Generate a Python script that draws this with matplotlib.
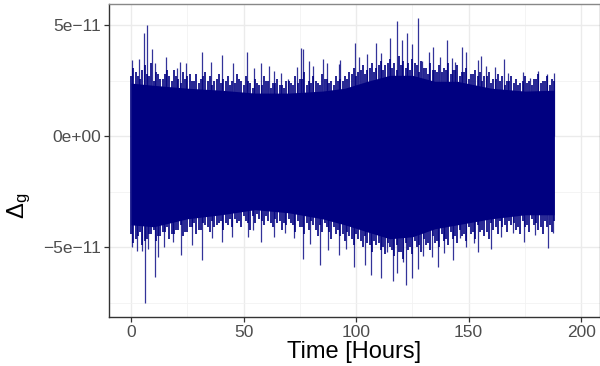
import numpy as np
import matplotlib
matplotlib.use("Agg")
import matplotlib.pyplot as plt
from matplotlib.ticker import FixedLocator

plt.rcParams['font.family'] = ['Liberation Sans', 'DejaVu Sans']
plt.rcParams['mathtext.fontset'] = 'custom'
plt.rcParams['mathtext.rm'] = 'Liberation Sans'
plt.rcParams['mathtext.it'] = 'Liberation Sans'

# ---- data (values in units of 1e-11) ----
# solid core of the trace
core_hours = [0, 10, 25, 40, 55, 70, 85, 95, 105, 115, 125, 135, 145, 160, 175, 188]
core_top = [2.40, 2.30, 2.17, 2.08, 1.95, 1.95, 2.04, 2.17, 2.48, 2.75, 2.75, 2.48, 2.48, 2.17, 2.04, 2.08]
core_bottom = [-3.98, -4.07, -3.71, -3.53, -3.30, -3.44, -3.71, -3.98, -4.30, -4.61, -4.52, -4.16, -3.98, -3.71, -3.53, -3.53]

# ragged fringe, outer set sampled at odd hours (1, 3, ..., 187)
fringe_hours = list(range(1, 188, 2))
fringe_top = [3.1, 2.7, 3.0, 2.8, 3.3, 2.9, 2.6, 2.8, 2.7, 3.0, 2.6, 2.9, 2.7, 2.5, 2.8, 2.6, 2.9, 2.7, 2.5, 2.8, 2.6, 2.7, 2.5,
              2.8, 2.5, 2.7, 2.4, 2.6, 2.3, 2.7, 2.5, 2.4, 2.6, 2.3, 2.5, 2.4, 2.7, 2.6, 2.9, 2.5, 2.7, 2.4, 2.8, 2.6, 2.5, 2.7, 2.6,
              2.7, 2.9, 3.1, 2.9, 3.2, 3.0, 3.3, 3.1, 3.4, 3.2, 3.5, 3.3, 3.6, 3.4, 3.3, 3.5, 3.2, 3.4, 3.1, 3.3, 3.0, 3.2,
              3.1, 3.3, 3.0, 3.2, 2.9, 3.1, 2.8, 3.0, 2.9, 2.7, 2.9, 2.6, 2.8, 2.7, 2.5, 2.7, 2.6, 2.4, 2.7, 2.5, 2.6, 2.8, 2.5, 2.7, 2.6]
fringe_bottom = [-4.8, -4.5, -4.9, -4.6, -4.4, -4.7, -4.5, -4.3, -4.6, -4.4, -4.2, -4.5, -4.3, -4.1, -4.4, -4.2, -4.0, -4.3, -4.1, -3.9, -4.2, -4.0, -4.1,
                 -3.9, -4.1, -3.8, -4.2, -3.9, -3.7, -4.0, -3.8, -4.1, -3.9, -4.2, -4.0, -3.9, -4.3, -4.1, -4.4, -4.2, -4.0, -4.5, -4.3, -4.1, -4.6, -4.4, -4.5,
                 -4.7, -4.5, -4.9, -4.6, -5.0, -4.8, -5.2, -4.9, -5.1, -5.3, -5.0, -5.4, -5.2, -5.5, -5.1, -5.3, -5.0, -5.2, -4.9, -5.1, -4.8, -5.0,
                 -4.7, -4.9, -4.6, -4.8, -4.5, -4.7, -4.4, -4.6, -4.3, -4.5, -4.6, -4.2, -4.4, -4.1, -4.3, -4.0, -4.2, -4.4, -4.1, -4.3, -4.0, -4.2, -4.4, -4.1, -4.3]

# inner fringe at even hours (0, 2, ..., 188)
fringe2_hours = list(range(0, 189, 2))
fringe2_top = [2.7, 2.9, 2.6, 3.2, 2.7, 2.5, 2.8, 2.6, 3.0, 2.5, 2.7, 2.4, 2.6, 2.8, 2.5, 2.4, 2.7, 2.5, 2.3, 2.6, 2.4, 2.5, 2.3,
               2.4, 2.6, 2.3, 2.5, 2.2, 2.4, 2.3, 2.5, 2.2, 2.4, 2.3, 2.2, 2.5, 2.3, 2.4, 2.6, 2.3, 2.4, 2.5, 2.3, 2.6, 2.4, 2.3, 2.5,
               2.5, 2.6, 2.8, 2.7, 3.0, 2.8, 3.1, 2.9, 3.2, 3.0, 3.3, 3.1, 3.0, 3.2, 3.1, 3.0, 3.3, 2.9, 3.1, 2.8, 3.0, 2.9,
               2.9, 3.0, 2.8, 3.0, 2.7, 2.9, 2.6, 2.8, 2.7, 2.5, 2.7, 2.4, 2.6, 2.5, 2.3, 2.5, 2.4, 2.3, 2.5, 2.4, 2.3, 2.6, 2.4, 2.5, 2.3, 2.5]
fringe2_bottom = [-4.4, -4.6, -4.3, -4.7, -4.4, -4.2, -4.5, -4.3, -4.1, -4.4, -4.2, -4.0, -4.3, -4.1, -3.9, -4.2, -3.9, -4.1, -3.8, -4.0, -3.8, -3.9, -3.7,
                  -3.7, -3.8, -3.6, -3.9, -3.6, -3.5, -3.8, -3.6, -3.9, -3.7, -3.8, -3.9, -3.7, -4.0, -3.8, -4.1, -3.9, -3.8, -4.2, -4.0, -3.9, -4.3, -4.1, -4.2,
                  -4.4, -4.3, -4.6, -4.4, -4.7, -4.5, -4.9, -4.7, -4.8, -5.0, -4.8, -5.1, -4.9, -5.2, -4.8, -5.0, -4.7, -4.9, -4.6, -4.8, -4.5, -4.7,
                  -4.4, -4.6, -4.3, -4.5, -4.2, -4.4, -4.1, -4.3, -4.0, -4.2, -4.3, -3.9, -4.1, -3.8, -4.0, -3.8, -3.9, -4.1, -3.8, -4.0, -3.7, -3.9, -4.1, -3.8, -4.0, -3.8]

# individual large excursions
up_hours = [0.3, 3.7, 5.9, 7.3, 9.2, 10.7, 15.6, 20.3, 21.9, 24.3, 31.7, 35.3, 40.6, 45.2,
            51.7, 54.7, 57.8, 61.3, 63.7, 66.5, 69.6, 73.6, 75.7, 76.3, 79.0, 81.0, 85.5, 87.0, 92.3,
            92.9, 99.3, 101.3, 105.0, 108.8, 111.1, 115.1, 118.1, 120.6, 122.5, 124.8, 127.6, 129.5,
            132.6, 134.4, 137.3, 140.3, 142.5, 144.0, 147.0, 148.9, 154.1, 155.6, 157.8, 161.8,
            165.9, 167.7, 174.1, 177.3, 180.8, 184.7, 188.0]
up_vals = [3.44, 3.47, 4.64, 5.01, 3.92, 3.32, 3.59, 3.06, 3.36, 3.32, 3.81, 3.36, 3.66, 3.29,
           3.78, 3.06, 3.29, 3.17, 2.94, 2.84, 2.57, 3.11, 3.96, 3.92, 3.39, 3.17, 3.47, 3.29, 3.26,
           3.44, 4.19, 3.59, 3.69, 4.19, 3.77, 4.41, 5.19, 4.34, 4.64, 4.14, 5.32, 3.39,
           3.78, 4.04, 3.59, 4.34, 3.54, 3.33, 4.01, 3.81, 3.44, 3.62, 3.17, 3.11,
           3.47, 2.87, 2.91, 2.61, 2.94, 2.79, 2.87]

low_hours = [0.3, 2.5, 4.7, 6.1, 7.7, 10.7, 12.1, 14.8, 18.8, 22.1, 27.0, 31.7, 35.9, 40.3, 44.8,
             51.9, 54.4, 57.8, 63.3, 68.4, 72.6, 76.6, 79.6, 84.0, 87.3, 92.3,
             95.6, 99.1, 104.0, 106.7, 111.1, 113.6, 116.3, 118.4, 121.0, 122.4, 124.8, 127.4,
             129.9, 133.6, 136.6, 139.0, 143.0, 146.2, 148.9, 152.4, 154.1, 159.9, 164.3, 169.9,
             174.8, 179.6, 185.2, 187.7]
low_vals = [-4.97, -5.15, -5.15, -7.52, -5.05, -6.32, -5.42, -4.97, -4.75, -5.35, -4.90, -5.57, -4.59, -4.75, -4.52,
            -4.52, -4.22, -4.75, -4.52, -4.37, -4.59, -5.50, -4.85, -5.77, -5.12, -5.35,
            -5.05, -5.87, -5.80, -6.22, -6.37, -5.20, -6.52, -6.17, -5.65, -6.67, -6.37, -5.95,
            -5.39, -5.42, -5.87, -5.27, -5.57, -4.59, -4.97, -4.82, -5.20, -5.05, -4.52, -4.37,
            -4.75, -4.45, -5.02, -4.37]

scale = 1e-11
navy = '#000080'

fig = plt.figure(figsize=(6.0, 3.66), dpi=100)
ax = fig.add_axes([0.1817, 0.134, 0.8183, 0.855])

ch = np.array(core_hours)
ax.fill_between(ch, np.array(core_bottom) * scale, np.array(core_top) * scale,
                color=navy, linewidth=0, zorder=3)
ax.vlines(fringe_hours, 0, np.array(fringe_top) * scale, color=navy, linewidth=1.2, zorder=3)
ax.vlines(fringe_hours, 0, np.array(fringe_bottom) * scale, color=navy, linewidth=1.2, zorder=3)
ax.vlines(fringe2_hours, 0, np.array(fringe2_top) * scale, color=navy, linewidth=1.2, zorder=3)
ax.vlines(fringe2_hours, 0, np.array(fringe2_bottom) * scale, color=navy, linewidth=1.2, zorder=3)
ax.vlines(up_hours, 0, np.array(up_vals) * scale, color=navy, linewidth=0.9, alpha=0.8, zorder=3)
ax.vlines(low_hours, 0, np.array(low_vals) * scale, color=navy, linewidth=0.9, alpha=0.8, zorder=3)

ax.set_xlim(-9.8, 208.4)
ax.set_ylim(-8.13e-11, 5.96e-11)

ax.xaxis.set_major_locator(FixedLocator([0, 50, 100, 150, 200]))
ax.xaxis.set_minor_locator(FixedLocator([25, 75, 125, 175]))
ax.yaxis.set_major_locator(FixedLocator([-5e-11, 0, 5e-11]))
ax.yaxis.set_minor_locator(FixedLocator([-7.5e-11, -2.5e-11, 2.5e-11]))
ax.set_xticklabels(['0', '50', '100', '150', '200'])
ax.set_yticklabels(['\u22125e\u221211', '0e+00', '5e\u221211'])

ax.grid(which='major', color='#EBEBEB', linewidth=1.0, zorder=0)
ax.grid(which='minor', color='#F2F2F2', linewidth=0.6, zorder=0)
ax.set_axisbelow(True)

ax.tick_params(axis='both', which='major', length=3.5, width=0.9, color='#333333',
               labelsize=12.5, labelcolor='#4D4D4D', pad=2)
ax.tick_params(axis='both', which='minor', length=0)

for side in ['left', 'bottom']:
    ax.spines[side].set_color('#333333')
    ax.spines[side].set_linewidth(1.0)
for side in ['top', 'right']:
    ax.spines[side].set_color('#888888')
    ax.spines[side].set_linewidth(1.0)

ax.set_xlabel('Time [Hours]', fontsize=17, color='black', labelpad=1)
fig.text(0.032, 0.438, r'$\mathregular{\Delta_g}$', rotation=90, fontsize=17,
         ha='center', va='center', color='black')

fig.savefig('out.png', dpi=100)
